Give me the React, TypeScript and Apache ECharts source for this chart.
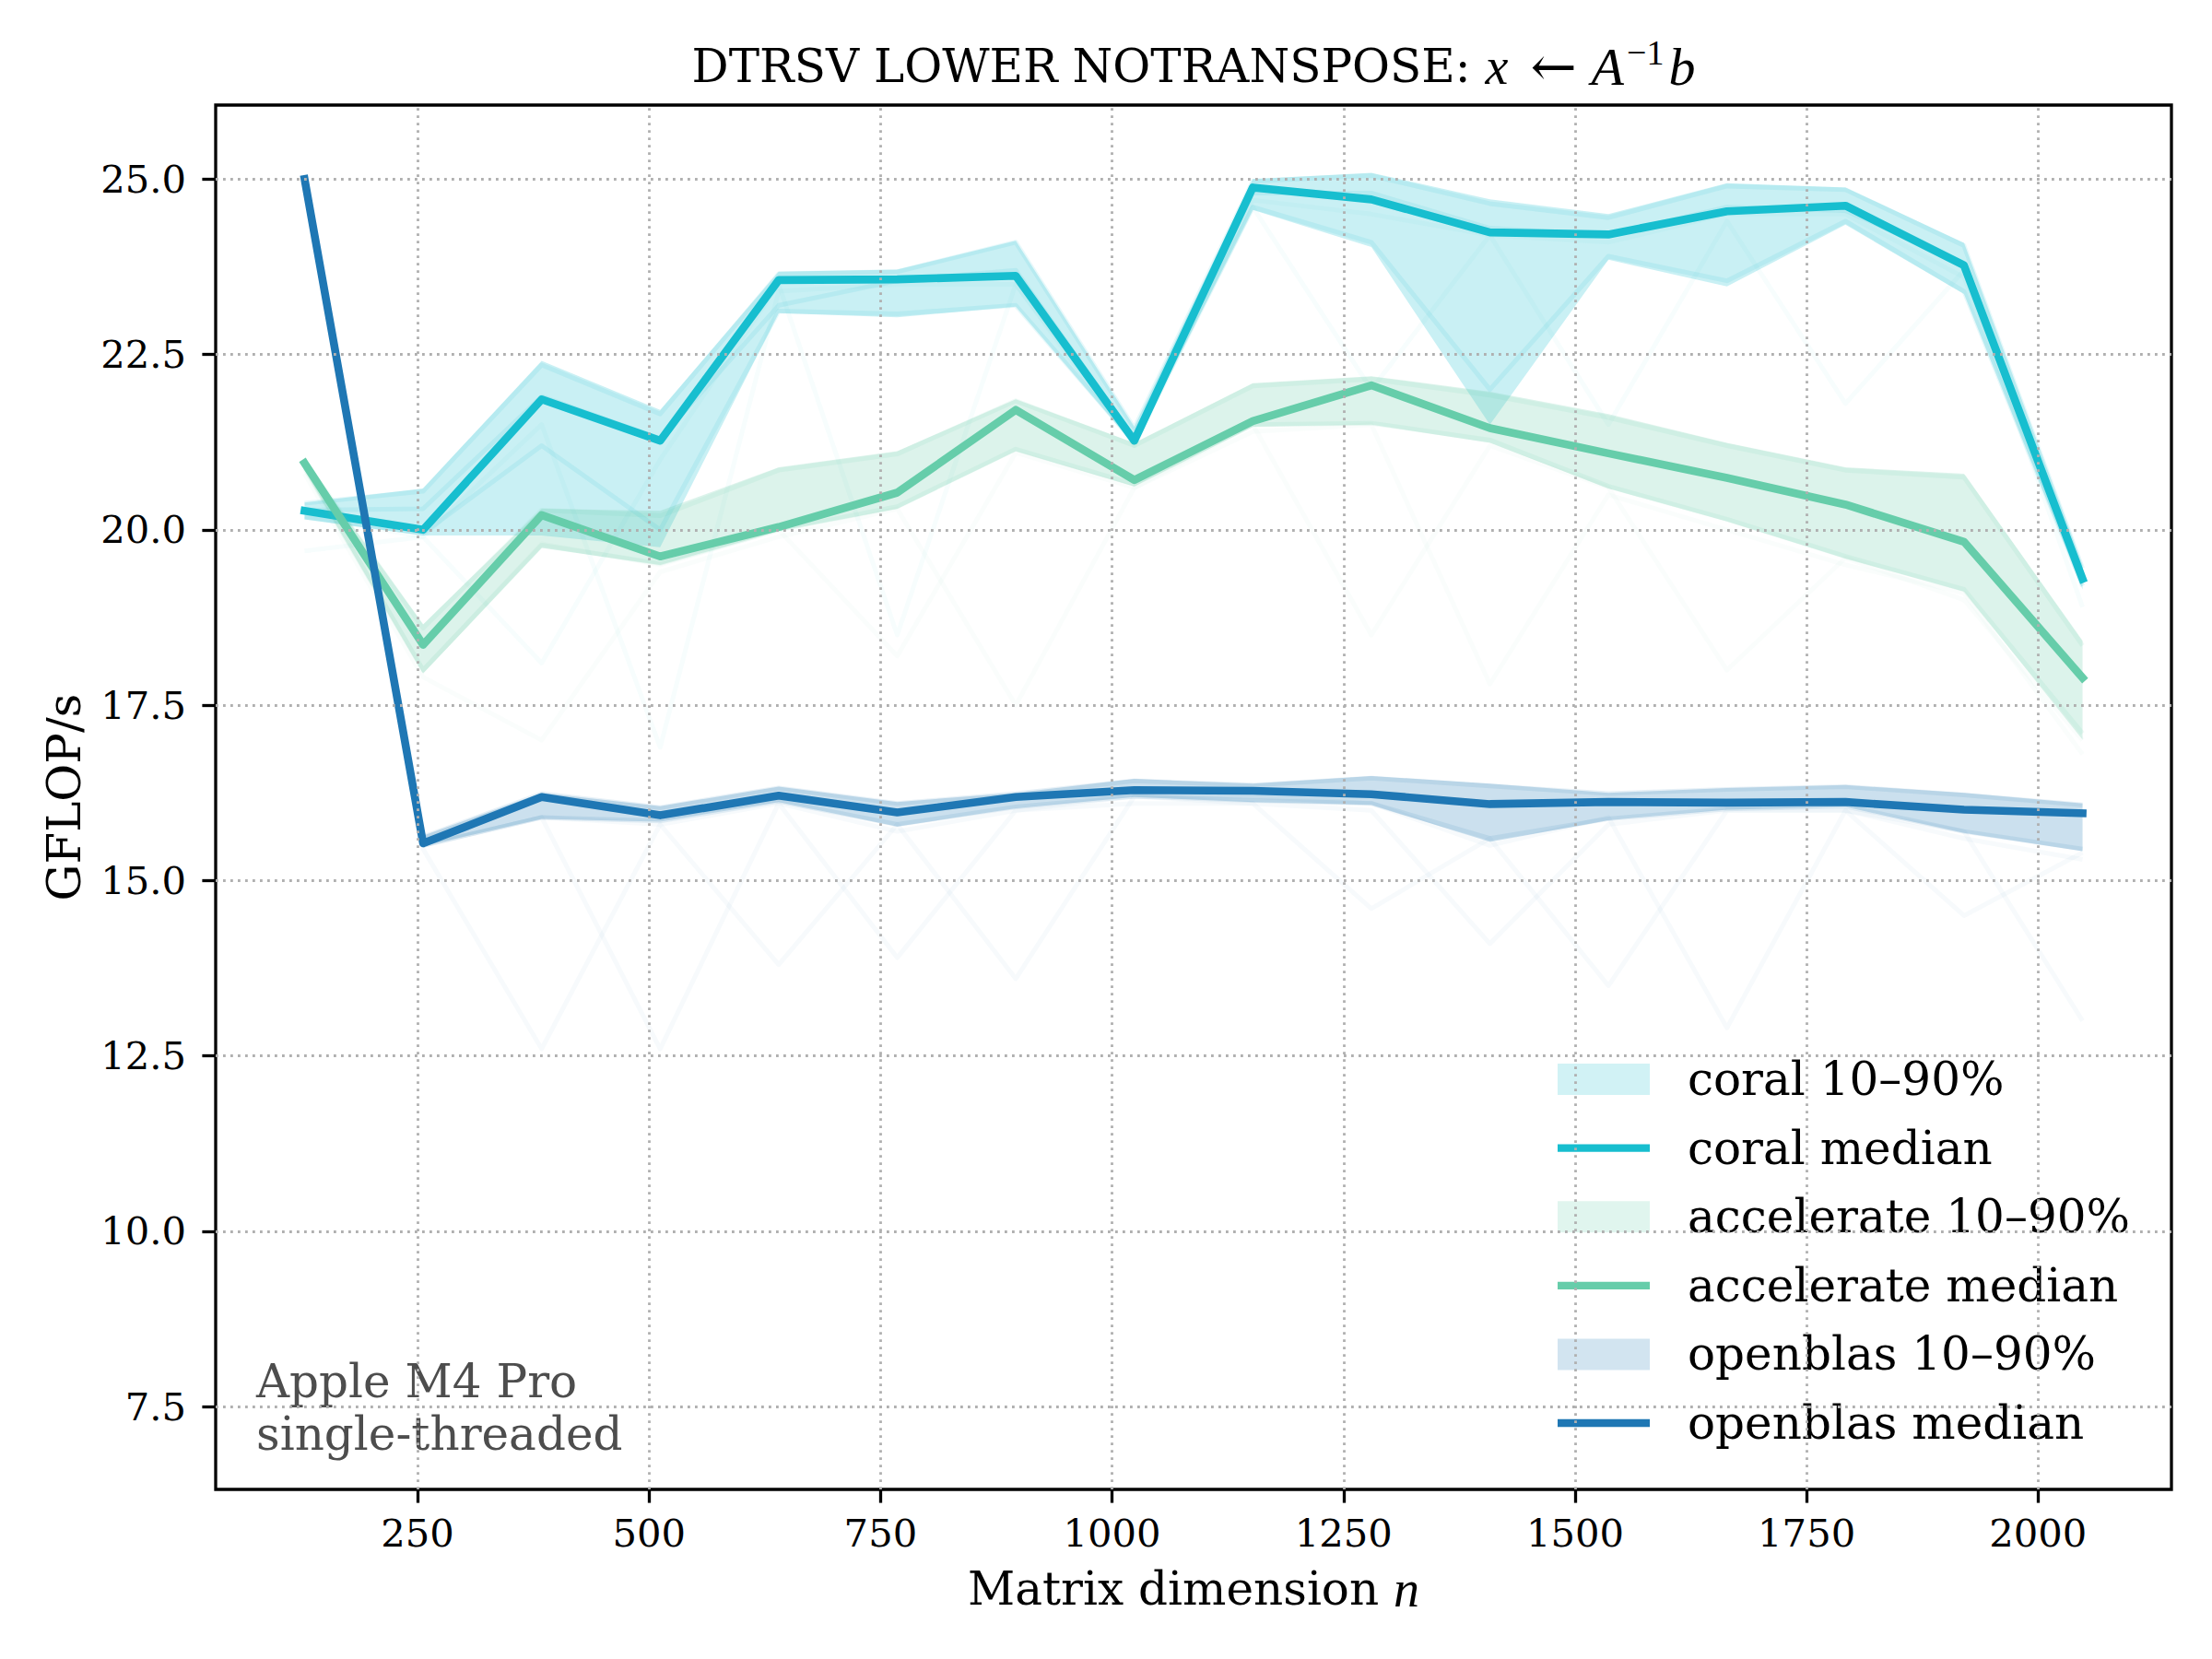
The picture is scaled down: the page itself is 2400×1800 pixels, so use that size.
import React, { useEffect, useRef } from "react";
import * as echarts from "echarts";

// ---------------- data ----------------
const sizes = [128, 256, 384, 512, 640, 768, 896, 1024, 1152, 1280, 1408, 1536, 1664, 1792, 1920, 2048];

const coralMedian = [20.27, 20.0, 21.86, 21.27, 23.56, 23.57, 23.62, 21.27, 24.88, 24.71, 24.24, 24.21, 24.54, 24.62, 23.77, 19.3];
const coralP10 = [20.15, 19.92, 19.92, 19.75, 23.09, 23.03, 23.18, 21.21, 24.56, 24.03, 21.5, 23.85, 23.47, 24.35, 23.36, 19.15];
const coralP90 = [20.39, 20.59, 22.41, 21.71, 23.68, 23.71, 24.12, 21.47, 25.0, 25.09, 24.71, 24.5, 24.94, 24.88, 24.09, 19.5];

const accMedian = [20.95, 18.36, 20.21, 19.62, 20.04, 20.53, 21.71, 20.71, 21.55, 22.06, 21.45, 21.09, 20.74, 20.36, 19.83, 17.89];
const accP10 = [20.85, 17.95, 19.74, 19.5, 19.98, 20.3, 21.12, 20.62, 21.47, 21.5, 21.24, 20.59, 20.12, 19.59, 19.12, 17.01];
const accP90 = [21.0, 18.65, 20.3, 20.27, 20.89, 21.12, 21.86, 21.24, 22.09, 22.19, 21.97, 21.65, 21.24, 20.89, 20.8, 18.42];

const obMedian = [25.0, 15.53, 16.19, 15.93, 16.21, 15.97, 16.19, 16.29, 16.28, 16.23, 16.09, 16.12, 16.11, 16.12, 16.01, 15.96];
const obP10 = [24.95, 15.49, 15.88, 15.84, 16.12, 15.77, 16.03, 16.19, 16.12, 16.08, 15.55, 15.86, 16.01, 16.05, 15.68, 15.42];
const obP90 = [25.05, 15.64, 16.25, 16.06, 16.34, 16.12, 16.25, 16.45, 16.38, 16.49, 16.38, 16.25, 16.32, 16.36, 16.25, 16.1];

// individual (faint) runs
const coralRunA = [20.38, 20.55, 22.35, 21.65, 23.65, 23.68, 24.1, 21.45, 24.97, 25.05, 24.65, 24.45, 24.9, 24.85, 24.05, 19.45];
const coralRunB = [20.18, 19.95, 21.2, 20.0, 23.12, 23.08, 23.2, 21.25, 24.6, 24.1, 22.0, 23.9, 23.55, 24.4, 23.4, 19.2];
const coralRunC = [20.28, 20.3, 21.9, 21.3, 23.2, 23.55, 23.7, 21.3, 24.8, 24.8, 24.3, 24.2, 24.6, 24.55, 23.8, 19.3];
const coralRunD = [19.7, 19.9, 21.5, 16.9, 23.4, 23.5, 23.5, 21.2, 24.7, 24.5, 24.2, 24.1, 24.5, 24.5, 23.6, 19.2];
const coralRunE = [20.2, 19.9, 18.1, 21.0, 23.5, 18.5, 23.5, 21.3, 24.6, 22.0, 24.2, 21.5, 24.4, 21.8, 23.7, 18.9];

const accRunA = [20.98, 18.6, 20.28, 20.2, 20.85, 21.08, 21.84, 21.2, 22.05, 22.15, 21.92, 21.6, 21.2, 20.85, 20.75, 18.35];
const accRunB = [20.88, 18.0, 19.78, 19.52, 20.0, 20.33, 21.15, 20.65, 21.5, 21.52, 21.28, 20.62, 20.15, 19.62, 19.15, 17.1];
const accRunC = [20.9, 18.0, 19.8, 19.5, 20.0, 18.2, 21.1, 20.6, 21.4, 21.5, 17.8, 20.5, 20.0, 19.5, 19.1, 16.8];
const accRunD = [20.8, 17.9, 17.0, 19.4, 19.9, 20.3, 17.5, 20.6, 21.5, 18.5, 21.2, 20.6, 18.0, 19.6, 19.0, 17.0];

const obRunA = [25.02, 15.62, 16.24, 16.04, 16.32, 16.1, 16.24, 16.42, 16.36, 16.46, 16.35, 16.24, 16.3, 16.34, 16.22, 16.08];
const obRunB = [24.97, 15.5, 15.9, 15.85, 16.13, 15.8, 16.05, 16.2, 16.14, 16.1, 15.6, 15.88, 16.02, 16.06, 15.7, 15.45];
const obRunC = [24.9, 15.45, 12.6, 15.8, 16.1, 15.7, 16.0, 16.2, 16.1, 16.0, 14.1, 15.8, 16.0, 16.0, 15.6, 15.3];
const obRunD = [24.9, 15.5, 15.9, 12.6, 16.1, 13.9, 16.0, 16.1, 16.1, 14.6, 15.6, 13.5, 16.0, 16.0, 14.5, 15.4];
const obRunE = [24.95, 15.5, 15.9, 15.8, 13.8, 15.8, 13.6, 16.2, 16.2, 16.1, 15.5, 15.9, 12.9, 16.0, 15.7, 13.0];

const xTicks = [250, 500, 750, 1000, 1250, 1500, 1750, 2000];
const yTicks = [7.5, 10.0, 12.5, 15.0, 17.5, 20.0, 22.5, 25.0];

const libNames = ["coral", "accelerate", "openblas"];

// ---------------- helpers ----------------
const pairs = (ys: number[]) => sizes.map((x, i) => [x, ys[i]]);

const SERIF = "DejaVu Serif";
const MATH = "Liberation Serif";
const LINE_ICON =
  "path://M0,0L0.01,0L0.01,0.01ZM0,12.85L100,12.85L100,21.15L0,21.15ZM0,34L0.01,34L0.01,33.99Z";

function bandSeries(name: string, rgb: string, p10: number[], p90: number[]) {
  return {
    type: "custom",
    name: `${name} 10–90%`,
    data: sizes.map((x, i) => [x, p10[i], p90[i]]),
    encode: { x: 0, y: [1, 2] },
    silent: true,
    clip: true,
    itemStyle: { color: `rgba(${rgb},0.2)` },
    renderItem: (params: any, api: any) => {
      if (params.dataIndex !== 0) return null;
      const upper = sizes.map((x, i) => api.coord([x, p90[i]]));
      const lower = sizes.map((x, i) => api.coord([x, p10[i]])).reverse();
      return {
        type: "polygon",
        shape: { points: upper.concat(lower) },
        style: { fill: `rgba(${rgb},0.23)`, stroke: "none" },
      };
    },
  };
}

function libSeries(
  name: string,
  color: string,
  rgb: string,
  p10: number[],
  p90: number[],
  median: number[],
  runs: number[][],
  faint: number[][]
) {
  const out: any[] = [];
  faint.forEach((r, k) =>
    out.push({
      type: "line",
      name: `${name} run faint ${k}`,
      data: pairs(r),
      symbol: "none",
      silent: true,
      lineStyle: { color: `rgba(${rgb},0.035)`, width: 5, join: "round" },
    })
  );
  runs.forEach((r, k) =>
    out.push({
      type: "line",
      name: `${name} run ${k}`,
      data: pairs(r),
      symbol: "none",
      silent: true,
      lineStyle: { color: `rgba(${rgb},0.1)`, width: 5, join: "round" },
    })
  );
  out.push(bandSeries(name, rgb, p10, p90));
  out.push({
    type: "line",
    name: `${name} median`,
    data: pairs(median),
    symbol: "none",
    silent: true,
    lineStyle: { color, width: 8.6, cap: "square", join: "round" },
    itemStyle: { color },
  });
  return out;
}

export default function App() {
  const ref = useRef<HTMLDivElement>(null);

  useEffect(() => {
    if (!ref.current) return;
    const chart = echarts.init(ref.current, undefined, { renderer: "svg" });

    const colors: Record<string, [string, string]> = {
      coral: ["#17becf", "23,190,207"],
      accelerate: ["#66cdaa", "102,205,170"],
      openblas: ["#1f77b4", "31,119,180"],
    };

    const gridSeries = {
      type: "line",
      name: "grid",
      data: [[sizes[0], coralMedian[0]]],
      symbol: "none",
      silent: true,
      z: 1,
      lineStyle: { opacity: 0, width: 0 },
      markLine: {
        silent: true,
        symbol: ["none", "none"],
        label: { show: false },
        lineStyle: { color: "#b0b0b0", width: 2.8, type: [2.8, 5.2] },
        emphasis: { disabled: true },
        data: [
          ...xTicks.map((v) => ({ xAxis: v })),
          ...yTicks.map((v) => ({ yAxis: v })),
        ],
      },
    };

    const series = [
      gridSeries,
      ...libSeries("coral", colors.coral[0], colors.coral[1], coralP10, coralP90, coralMedian, [coralRunA, coralRunB, coralRunC], [coralRunD, coralRunE]),
      ...libSeries("accelerate", colors.accelerate[0], colors.accelerate[1], accP10, accP90, accMedian, [accRunA, accRunB], [accRunC, accRunD]),
      ...libSeries("openblas", colors.openblas[0], colors.openblas[1], obP10, obP90, obMedian, [obRunA, obRunB], [obRunC, obRunD, obRunE]),
    ];

    const legendData: any[] = [];
    libNames.forEach((n) => {
      legendData.push({
        name: `${n} 10–90%`,
        icon: "rect",
        itemStyle: { color: `rgba(${colors[n][1]},0.2)`, borderWidth: 0 },
      });
      legendData.push({
        name: `${n} median`,
        icon: LINE_ICON,
        itemStyle: { color: colors[n][0], borderWidth: 0 },
      });
    });

    const tickStyle = { show: true, inside: false, length: 14.6, lineStyle: { color: "#000", width: 3.3 } };

    chart.setOption({
      animation: false,
      backgroundColor: "#ffffff",
      title: {
        text: "DTRSV LOWER NOTRANSPOSE: {x|x}{a|←} {A|A}{s|−1}{b|b}",
        left: 1295,
        top: 38,
        padding: 0,
        textAlign: "center",
        textStyle: {
          fontFamily: SERIF,
          fontSize: 50,
          fontWeight: "normal",
          color: "#000",
          rich: {
            x: { fontFamily: MATH, fontStyle: "italic", fontSize: 56, color: "#000" },
            a: { fontFamily: SERIF, fontSize: 60, color: "#000", padding: [0, 0, 0, 24] },
            A: { fontFamily: MATH, fontStyle: "italic", fontSize: 58, color: "#000" },
            s: { fontFamily: MATH, fontSize: 38, color: "#000", padding: [0, 0, 30, 3] },
            b: { fontFamily: MATH, fontStyle: "italic", fontSize: 58, color: "#000", padding: [0, 0, 0, 5] },
          },
        },
      },
      grid: {
        left: 234,
        right: 44,
        top: 114,
        bottom: 184,
        show: true,
        borderColor: "#000",
        borderWidth: 3.3,
        backgroundColor: "transparent",
        containLabel: false,
      },
      xAxis: {
        type: "value",
        min: 32,
        max: 2144,
        name: "Matrix dimension {m|n}",
        nameLocation: "middle",
        nameGap: 80,
        nameTextStyle: {
          fontFamily: SERIF,
          fontSize: 50,
          color: "#000",
          rich: { m: { fontFamily: MATH, fontStyle: "italic", fontSize: 56, color: "#000" } },
        },
        axisLine: { show: false },
        axisTick: { ...tickStyle, customValues: xTicks },
        axisLabel: {
          customValues: xTicks,
          margin: 26,
          fontFamily: SERIF,
          fontSize: 41.7,
          color: "#000",
          formatter: (v: number) => String(Math.round(v)),
        },
        splitLine: { show: false },
      },
      yAxis: {
        type: "value",
        min: 6.32,
        max: 26.055,
        name: "GFLOP/s",
        nameLocation: "middle",
        nameGap: 139,
        nameTextStyle: { fontFamily: SERIF, fontSize: 50, color: "#000" },
        axisLine: { show: false },
        axisTick: { ...tickStyle, customValues: yTicks },
        axisLabel: {
          customValues: yTicks,
          margin: 32,
          fontFamily: SERIF,
          fontSize: 41.7,
          color: "#000",
          formatter: (v: number) => v.toFixed(1),
        },
        splitLine: { show: false },
      },
      legend: {
        orient: "vertical",
        left: 1666,
        top: 1122,
        padding: 24,
        itemWidth: 100,
        itemHeight: 34,
        itemGap: 24.6,
        selectedMode: false,
        backgroundColor: "rgba(255,255,255,0.8)",
        borderWidth: 0,
        textStyle: {
          fontFamily: SERIF,
          fontSize: 50,
          color: "#000",
          lineHeight: 34,
          padding: [0, 0, 0, 36],
        },
        data: legendData,
      },
      graphic: [
        {
          type: "text",
          x: 278,
          y: 1470,
          silent: true,
          style: {
            text: "Apple M4 Pro\nsingle-threaded",
            fontFamily: SERIF,
            fontSize: 50,
            lineHeight: 57.5,
            fill: "#4d4d4d",
            verticalAlign: "top",
            align: "left",
          },
        },
      ],
      series,
    });

    return () => chart.dispose();
  }, []);

  return (
    <div
      ref={ref}
      style={{ position: "fixed", left: 0, top: 0, width: 2400, height: 1800, background: "#fff" }}
    />
  );
}
